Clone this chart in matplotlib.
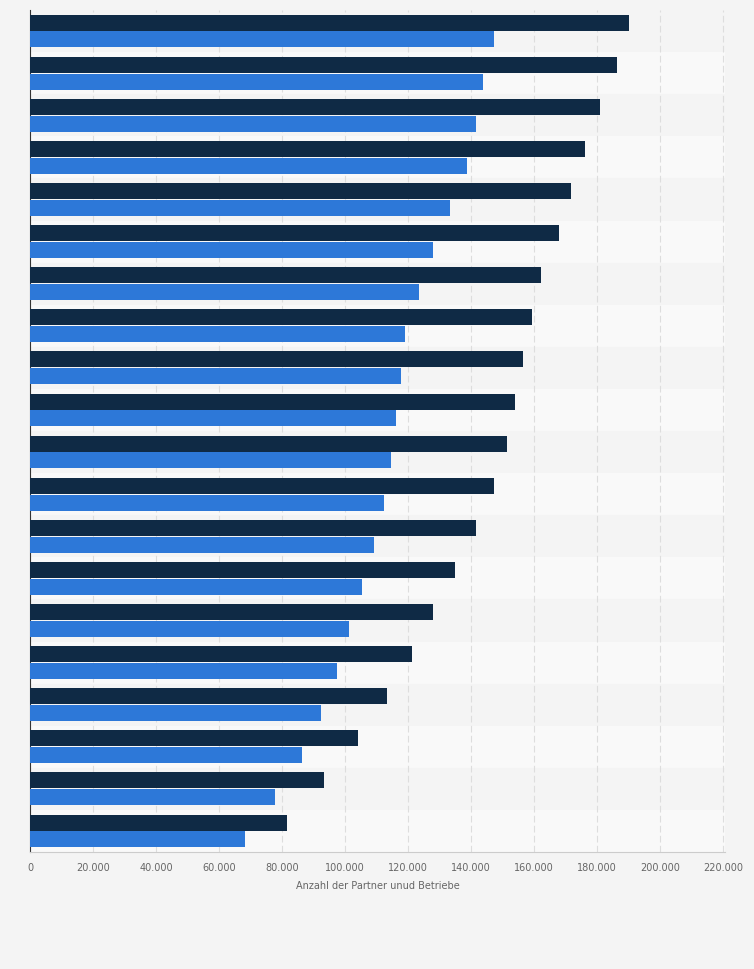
import matplotlib.pyplot as plt
import numpy as np

partner = [190.2, 186.3, 181.0, 176.2, 171.7, 168.0, 162.2, 159.4, 156.5, 154.0,
           151.4, 147.3, 141.6, 134.9, 127.9, 121.3, 113.3, 104.1, 93.3, 81.6]
betriebe = [147.3, 143.8, 141.6, 138.7, 133.3, 127.9, 123.5, 119.0, 117.8, 116.2,
            114.6, 112.4, 109.2, 105.4, 101.3, 97.5, 92.4, 86.3, 77.8, 68.3]
xticks = list(range(0, 220001, 20000))
xticklabels = ['0', '20.000', '40.000', '60.000', '80.000', '100.000', '120.000',
               '140.000', '160.000', '180.000', '200.000', '220.000']

fig = plt.figure(figsize=(7.54, 9.69), dpi=100)
fig.patch.set_facecolor('#f4f4f4')
ax = fig.add_axes([30/754, 1-852/969, 695/754, 842/969])
ax.set_facecolor('#f4f4f4')

n = len(partner)
y = np.arange(n)
for i in range(n):
    ax.axhspan(i-0.5, i+0.5, color='#f4f4f4' if i % 2 == 0 else '#f9f9f9', zorder=0)
ax.barh(y - 0.2, [v*1000 for v in partner], height=0.38, color='#0f2a45', zorder=3)
ax.barh(y + 0.2, [v*1000 for v in betriebe], height=0.38, color='#2d78d8', zorder=3)

ax.set_ylim(n-0.5, -0.5)
ax.set_xlim(0, 220600)
ax.set_xticks(xticks)
ax.set_xticklabels(xticklabels, fontsize=7, color='#666666')
ax.set_yticks([])
ax.grid(axis='x', color='#dddddd', linestyle=(0, (6, 3)), linewidth=0.8, zorder=1)
for s in ['top', 'right']:
    ax.spines[s].set_visible(False)
ax.spines['left'].set_color('#333333')
ax.spines['bottom'].set_color('#cccccc')
ax.tick_params(axis='x', length=0, pad=8)
ax.set_xlabel('Anzahl der Partner unud Betriebe', fontsize=7, color='#666666', labelpad=6)

fig.savefig('out.png', dpi=100, facecolor=fig.get_facecolor())
